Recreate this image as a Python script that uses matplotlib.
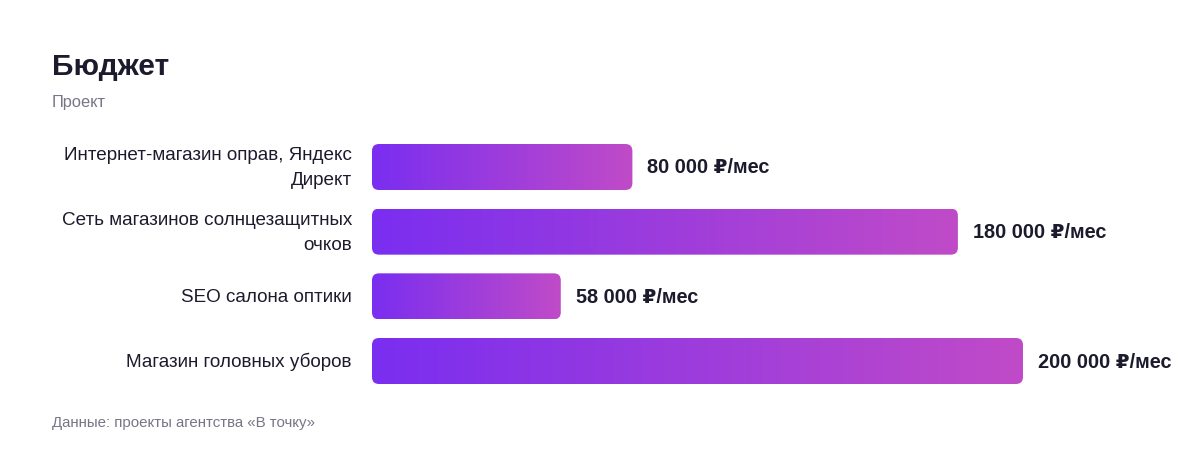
import matplotlib.pyplot as plt
import numpy as np
from matplotlib.colors import LinearSegmentedColormap
from matplotlib.patches import FancyBboxPatch

plt.rcParams['font.family'] = ['Liberation Sans', 'DejaVu Sans']

projects = ["Интернет-магазин оправ, Яндекс\nДирект",
            "Сеть магазинов солнцезащитных\nочков",
            "SEO салона оптики",
            "Магазин головных уборов"]
budgets = [80000, 180000, 58000, 200000]
value_labels = ["80 000 ₽/мес", "180 000 ₽/мес", "58 000 ₽/мес", "200 000 ₽/мес"]

W, H = 1200, 456
fig = plt.figure(figsize=(W / 100, H / 100), dpi=100)
fig.patch.set_facecolor("white")

# axes box in pixels: x 372..1023, y 145..385
ax = fig.add_axes([372 / W, 1 - 385 / H, (1023 - 372) / W, 240 / H])
ax.set_axis_off()

xmax = 200000
bar_h = 46 / 64.67
ax.set_xlim(0, xmax)
ax.set_ylim(3 + bar_h / 2, -bar_h / 2)

cmap = LinearSegmentedColormap.from_list("grad", ["#7a2ef0", "#c04bc8"])
grad = np.linspace(0, 1, 256).reshape(1, -1)

x_per_px = xmax / 651
y_per_px = 1 / 64.67
radius_px = 7

text_dark = "#1c1b2e"
for i, (name, val, lab) in enumerate(zip(projects, budgets, value_labels)):
    y0 = i - bar_h / 2
    patch = FancyBboxPatch((0, y0), val, bar_h,
                           boxstyle=f"round,pad=0,rounding_size={radius_px * x_per_px}",
                           mutation_aspect=y_per_px / x_per_px,
                           transform=ax.transData, facecolor="none", edgecolor="none")
    ax.add_patch(patch)
    im = ax.imshow(grad, cmap=cmap, aspect="auto", extent=(0, val, y0 + bar_h, y0),
                   interpolation="bilinear")
    im.set_clip_path(patch)
    ax.text(val + 15 * x_per_px, i, lab, ha="left", va="center",
            fontsize=14.3, fontweight="bold", color=text_dark)
    ax.text(-20 * x_per_px, i, name, ha="right", va="center",
            fontsize=13.6, color=text_dark, linespacing=1.6, multialignment="right")

ax.set_xlim(0, xmax)
ax.set_ylim(3 + bar_h / 2, -bar_h / 2)

fig.text(52 / W, 1 - 67 / H, "Бюджет", fontsize=21.5, fontweight="bold",
         color=text_dark, ha="left", va="center")
fig.text(52 / W, 1 - 102 / H, "Проект", fontsize=11.8, color="#767687",
         ha="left", va="center")
fig.text(52 / W, 1 - 423 / H, "Данные: проекты агентства «В точку»", fontsize=10.8,
         color="#767687", ha="left", va="center")

fig.savefig("out.png", dpi=100, facecolor="white")
